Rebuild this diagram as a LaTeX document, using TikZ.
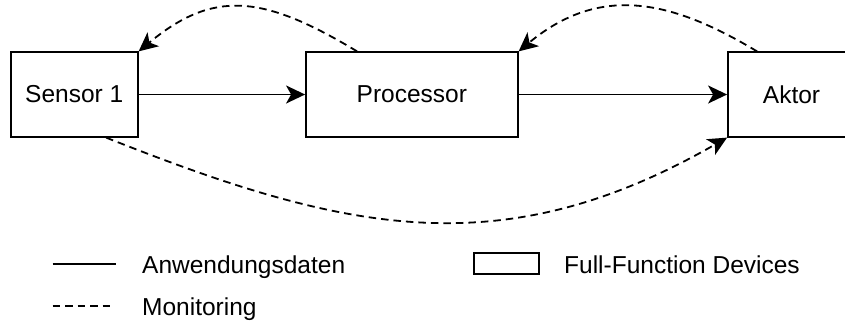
\documentclass[tikz,border=0pt]{standalone}
\usepackage{fontspec}
\setmainfont{Liberation Sans}
\usetikzlibrary{arrows.meta,calc}
\begin{document}
\begin{tikzpicture}[x=1pt,y=-1pt,
  every node/.style={font=\fontsize{24.5}{29}\selectfont},
  device/.style={draw, line width=1.8pt, inner sep=0pt, minimum height=84.4pt},
  datalink/.style={line width=1.8pt, -{Stealth[length=19pt 0 0,width=18pt 0 0,inset=5pt 0 0]}},
  monlink/.style={datalink, dash pattern=on 7.5pt off 5pt},
  legendline/.style={line width=1.8pt},
  legendtext/.style={anchor=base west, inner sep=0pt}
]
\useasboundingbox (0,0) rectangle (845,325);

% devices
\node[device, minimum width=127pt]   (sensor) at (74.2,94.5)  {Sensor 1};
\node[device, minimum width=211.7pt] (proc)   at (411.85,94.5) {Processor};
\node[device, minimum width=127pt]   (aktor)  at (791.5,94.5) {Aktor};

% application data
\draw[datalink] (sensor.east) -- (proc.west);
\draw[datalink] (proc.east) -- (aktor.west);

% monitoring
\draw[monlink] ($(proc.north west)+(52,0)$) .. controls (262,-6) and (213,-10) .. (sensor.north east);
\draw[monlink] ($(aktor.north west)+(30,0)$) .. controls (673,1) and (601,-17) .. (proc.north east);
\draw[monlink] ($(sensor.south west)+(96.3,0)$) .. controls (342,231) and (500,268) .. (aktor.south west);

% legend
\coordinate (l1a) at (52.7,264);
\coordinate (l1b) at (116,264);
\draw[legendline] (l1a) -- (l1b);
\node[legendtext] (l1t) at (142,273) {Anwendungsdaten};

\coordinate (l2a) at (52.7,306);
\coordinate (l2b) at (110,306);
\draw[legendline, dash pattern=on 7.5pt off 5pt] (l2a) -- (l2b);
\node[legendtext] (l2t) at (142,315) {Monitoring};

\node[draw, line width=1.8pt, minimum width=65pt, minimum height=21pt, inner sep=0pt] (l3box) at (506.5,263.5) {};
\node[legendtext] (l3t) at (564,273) {Full-Function Devices};
\end{tikzpicture}
\end{document}
